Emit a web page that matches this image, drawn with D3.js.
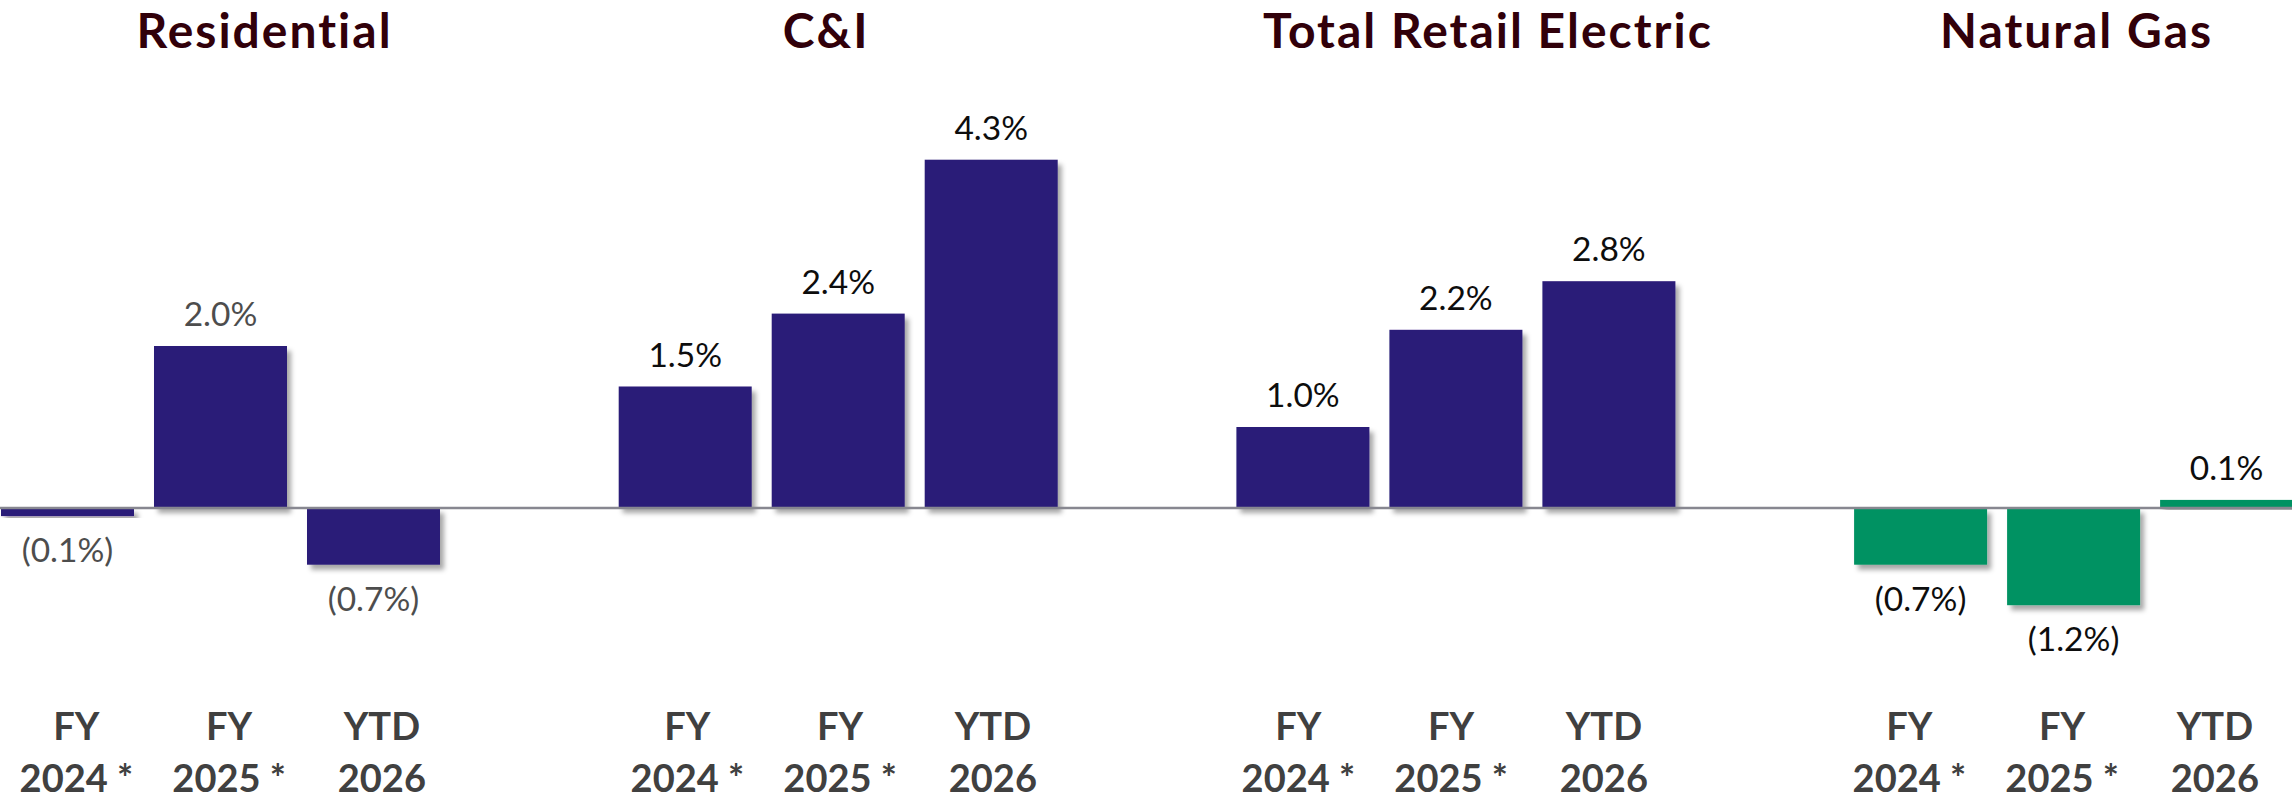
<!DOCTYPE html>
<html>
<head>
<meta charset="utf-8">
<script src="https://cdn.jsdelivr.net/npm/d3@7"></script>
<style>
  html, body { margin: 0; padding: 0; background: #fff; overflow: hidden; }
</style>
</head>
<body>
<div class="chart"></div>
<script>
// data
const groups = ['Residential', 'C&I', 'Total Retail Electric', 'Natural Gas'];
const periods = ['FY 2024 *', 'FY 2025 *', 'YTD 2026'];
const periodLines = [['FY', '2024 *'], ['FY', '2025 *'], ['YTD', '2026']];

const residential = [-0.1, 2.0, -0.7];
const commercialIndustrial = [1.5, 2.4, 4.3];
const totalRetailElectric = [1.0, 2.2, 2.8];
const naturalGas = [-0.7, -1.2, 0.1];

const seriesByGroup = [residential, commercialIndustrial, totalRetailElectric, naturalGas];

const width = 2292;
const height = 800;

const barColor = ['#2a1b78', '#2a1b78', '#2a1b78', '#009262'];
const valueColor = ['#4d4d4d', '#0d0d0d', '#0d0d0d', '#0d0d0d'];
const titleShift = [44, -12, 32, 3];

const rows = [];
groups.forEach((g, gi) => {
  seriesByGroup[gi].forEach((v, pi) => {
    rows.push({group: g, gi, period: periods[pi], pi, value: v});
  });
});

const svg = d3.select('.chart')
  .append('svg')
    .attr('width', width)
    .attr('height', height);

const defs = svg.append('defs');
defs.append('filter')
    .attr('id', 'shadow')
    .attr('x', '-10%').attr('y', '-10%')
    .attr('width', '130%').attr('height', '130%')
  .append('feDropShadow')
    .attr('dx', 4)
    .attr('dy', 5)
    .attr('stdDeviation', 2.5)
    .attr('flood-color', '#000')
    .attr('flood-opacity', 0.35);

const groupX = d3.scaleBand()
  .domain(groups)
  .range([1, 1 + 4 * 617.7]);

const barX = d3.scaleBand()
  .domain(periods)
  .range([0, 439])
  .paddingInner(20 / 153);

// category labels sit on an even grid of slots (3 per group + 1 gap)
const slotX = d3.scaleBand()
  .domain(d3.range(16))
  .range([0, 16 * 152.75]);

const y = d3.scaleLinear()
  .domain([-2, 5])
  .range([508 + 2 * 81, 508 - 5 * 81]);

const fmt = v => v < 0 ? `(${d3.format('.1f')(-v)}%)` : `${d3.format('.1f')(v)}%`;

// bars
svg.append('g')
  .selectAll('rect')
  .data(rows)
  .join('rect')
    .attr('x', d => groupX(d.group) + barX(d.period))
    .attr('y', d => y(Math.max(0, d.value)))
    .attr('width', barX.bandwidth())
    .attr('height', d => Math.abs(y(d.value) - y(0)))
    .attr('fill', d => barColor[d.gi])
    .attr('filter', 'url(#shadow)');

// zero line
svg.append('line')
  .attr('x1', 0)
  .attr('x2', width)
  .attr('y1', y(0))
  .attr('y2', y(0))
  .attr('stroke', '#878790')
  .attr('stroke-width', 2.5);

// value labels
svg.append('g')
  .selectAll('text')
  .data(rows)
  .join('text')
    .attr('x', d => groupX(d.group) + barX(d.period) + barX.bandwidth() / 2)
    .attr('y', d => d.value >= 0 ? y(d.value) - 20 : y(d.value) + 46)
    .attr('text-anchor', 'middle')
    .attr('font-family', 'Lato, "Noto Sans", sans-serif')
    .attr('font-size', '33.5px')
    .attr('fill', d => valueColor[d.gi])
    .text(d => fmt(d.value));

// group titles
svg.append('g')
  .selectAll('text')
  .data(groups)
  .join('text')
    .attr('x', (d, i) => groupX(d) + barX(periods[1]) + barX.bandwidth() / 2 + titleShift[i])
    .attr('y', 48)
    .attr('text-anchor', 'middle')
    .attr('font-family', 'Lato, "Noto Sans", sans-serif')
    .attr('font-weight', 'bold')
    .attr('font-size', '48px')
    .attr('letter-spacing', '2px')
    .attr('fill', '#31000a')
    .text(d => d);

// category labels, two lines each
const cat = svg.append('g')
  .selectAll('text')
  .data(rows)
  .join('text')
    .attr('text-anchor', 'middle')
    .attr('font-family', 'Lato, "Noto Sans", sans-serif')
    .attr('font-weight', 'bold')
    .attr('font-size', '38px')
    .attr('fill', '#404040');

cat.each(function(d) {
  const node = d3.select(this);
  const cx = slotX(d.gi * 4 + d.pi) + slotX.bandwidth() / 2;
  periodLines[d.pi].forEach((line, li) => {
    node.append('tspan')
      .attr('x', cx)
      .attr('y', 740 + li * 51.5)
      .text(line);
  });
});
</script>
</body>
</html>
